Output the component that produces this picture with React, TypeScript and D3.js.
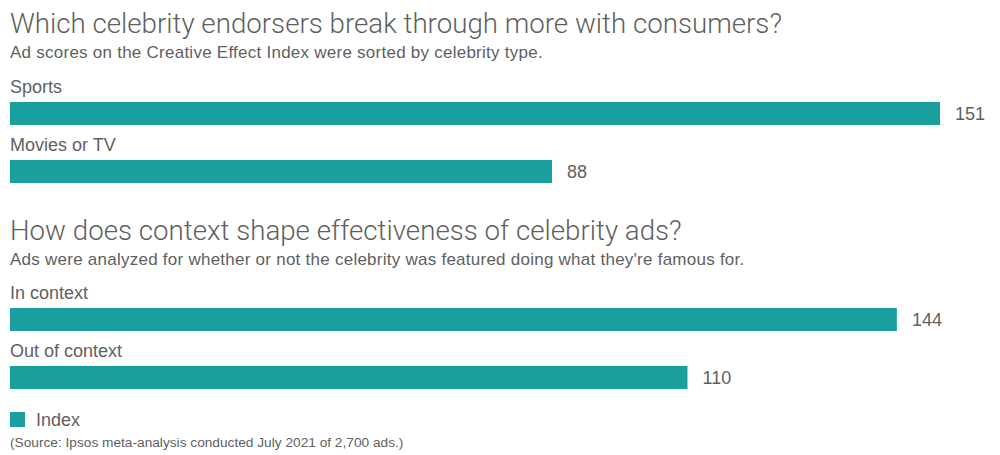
import React from "react";
import * as d3 from "d3";

const section1Categories = ["Sports", "Movies or TV"];
const section1Values = [151, 88];
const section2Categories = ["In context", "Out of context"];
const section2Values = [144, 110];
const title1 = "Which celebrity endorsers break through more with consumers?";
const subtitle1 = "Ad scores on the Creative Effect Index were sorted by celebrity type.";
const title2 = "How does context shape effectiveness of celebrity ads?";
const subtitle2 = "Ads were analyzed for whether or not the celebrity was featured doing what they're famous for.";
const legendLabel = "Index";
const sourceText = "(Source: Ipsos meta-analysis conducted July 2021 of 2,700 ads.)";

const W = 1000;
const H = 455;
const COLOR = "#1a9f9f";
const TEXT = "#5f5f5f";
const TITLE_FONT = "Roboto, 'Liberation Sans', sans-serif";
const FONT = "'Liberation Sans', Arial, sans-serif";

export default function App() {
  const x = d3.scaleLinear().domain([0, 151]).range([10, 940]);
  const barH = 23;

  const renderSection = (cats: string[], vals: number[], tops: number[]) =>
    cats.map((c, i) => (
      <g key={c}>
        <text x={10} y={tops[i] - 9} fontSize={18} fill={TEXT} fontFamily={FONT}>
          {c}
        </text>
        <rect x={x(0)} y={tops[i]} width={x(vals[i]) - x(0)} height={barH} fill={COLOR} />
        <text
          x={x(vals[i]) + 15}
          y={tops[i] + barH / 2}
          dy="0.36em"
          fontSize={18}
          fill={TEXT}
          fontFamily={FONT}
        >
          {vals[i]}
        </text>
      </g>
    ));

  return (
    <svg
      width={W}
      height={H}
      style={{ position: "absolute", left: 0, top: 0, background: "#fff" }}
    >
      <text x={10} y={33} fontSize={27.7} fill={TEXT} fontFamily={TITLE_FONT} fontWeight={300}>
        {title1}
      </text>
      <text x={10} y={58} fontSize={17} letterSpacing={0.25} fill={TEXT} fontFamily={FONT}>
        {subtitle1}
      </text>
      {renderSection(section1Categories, section1Values, [102, 160])}
      <text x={10} y={240} fontSize={27.7} fill={TEXT} fontFamily={TITLE_FONT} fontWeight={300}>
        {title2}
      </text>
      <text x={10} y={265} fontSize={17} letterSpacing={0.25} fill={TEXT} fontFamily={FONT}>
        {subtitle2}
      </text>
      {renderSection(section2Categories, section2Values, [308, 366])}
      <rect x={10} y={412} width={15} height={15} fill={COLOR} />
      <text x={36} y={426} fontSize={18} fill={TEXT} fontFamily={FONT}>
        {legendLabel}
      </text>
      <text x={10} y={447} fontSize={13.7} fill={TEXT} fontFamily={FONT}>
        {sourceText}
      </text>
    </svg>
  );
}
